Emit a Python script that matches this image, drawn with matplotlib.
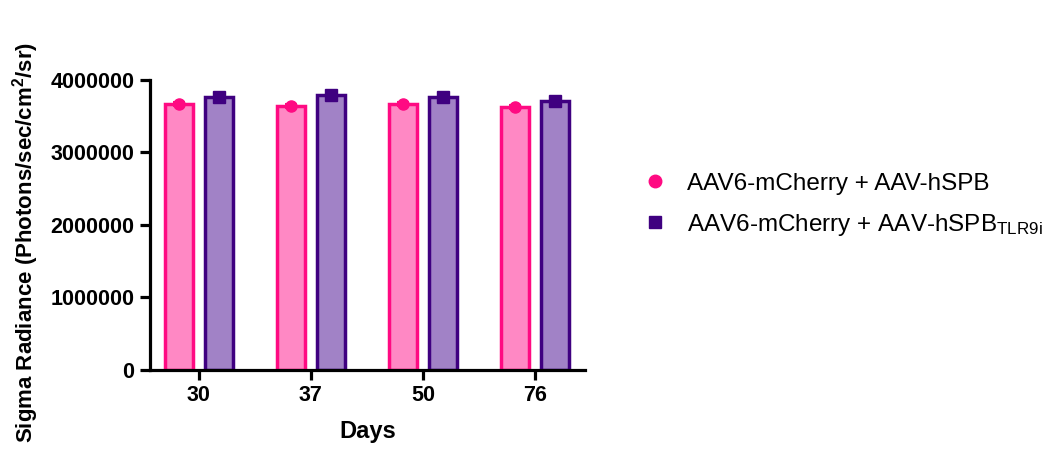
import matplotlib
matplotlib.use("Agg")
import matplotlib.pyplot as plt
import numpy as np
from matplotlib.lines import Line2D

plt.rcParams['font.family'] = ['Liberation Sans', 'DejaVu Sans']
plt.rcParams['mathtext.fontset'] = 'custom'
plt.rcParams['mathtext.rm'] = 'Liberation Sans'
plt.rcParams['mathtext.it'] = 'Liberation Sans:italic'
plt.rcParams['mathtext.bf'] = 'Liberation Sans:bold'

days = ["30", "37", "50", "76"]
hspb_mean = [3670000, 3640000, 3670000, 3625000]
hspb_err = [30000, 30000, 30000, 30000]
tlr9i_mean = [3760000, 3790000, 3760000, 3710000]
tlr9i_err = [40000, 50000, 40000, 40000]
series_labels = ["AAV6-mCherry + AAV-hSPB", r"AAV6-mCherry + AAV-hSPB$_{\mathrm{TLR9i}}$"]

pink_edge = "#FF0A82"
pink_fill = "#FF88C4"
purple_edge = "#3F0080"
purple_fill = "#A182C6"

fig = plt.figure(figsize=(10.48, 4.54), dpi=100)
ax = fig.add_axes([0.143, 0.185, 0.415, 0.639])

x = np.arange(len(days))
off = 0.18
w = 0.25
ax.bar(x - off, hspb_mean, width=w, color=pink_fill, edgecolor=pink_edge, linewidth=2.5, zorder=2)
ax.bar(x + off, tlr9i_mean, width=w, color=purple_fill, edgecolor=purple_edge, linewidth=2.5, zorder=2)
ax.errorbar(x - off, hspb_mean, yerr=hspb_err, fmt='o', color=pink_edge, ms=8, capsize=4,
            elinewidth=1.5, capthick=1.5, zorder=3)
ax.errorbar(x + off, tlr9i_mean, yerr=tlr9i_err, fmt='s', color=purple_edge, ms=8, capsize=4,
            elinewidth=1.5, capthick=1.5, zorder=3)

ax.set_xlim(-0.4375, 3.446)
ax.set_ylim(0, 4000000)
ax.set_yticks([0, 1000000, 2000000, 3000000, 4000000])
ax.set_yticklabels(["0", "1000000", "2000000", "3000000", "4000000"])
ax.set_xticks(x)
ax.set_xticklabels(days)

for s in ["top", "right"]:
    ax.spines[s].set_visible(False)
for s in ["left", "bottom"]:
    ax.spines[s].set_linewidth(2.3)
ax.tick_params(axis='both', width=2.3, length=7, labelsize=15.5, pad=4)
for lab in ax.get_xticklabels() + ax.get_yticklabels():
    lab.set_fontweight('bold')

ax.set_xlabel("Days", fontsize=17, fontweight='bold', labelpad=10)
ax.set_ylabel("Sigma Radiance (Photons/sec/cm$^{\\mathbf{2}}$/sr)", fontsize=16, fontweight='bold', labelpad=7)
ax.yaxis.label.set_y(0.44)

handles = [Line2D([], [], marker='o', color=pink_edge, ls='none', ms=9),
           Line2D([], [], marker='s', color=purple_edge, ls='none', ms=8)]
fig.legend(handles, series_labels, loc='center left', bbox_to_anchor=(0.587, 0.548),
           frameon=False, fontsize=17.5, handletextpad=0.55, labelspacing=0.7, handlelength=1.5)

fig.savefig("out.png", dpi=100)
